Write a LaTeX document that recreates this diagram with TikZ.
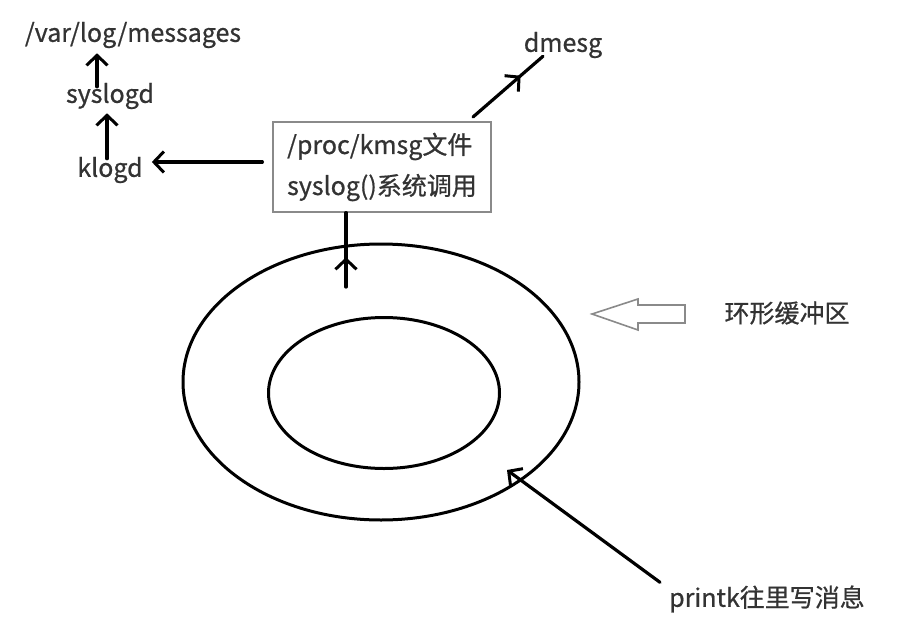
\documentclass[tikz,border=0pt]{standalone}
\usepackage{fontspec}
\newfontfamily\cjk[FakeBold=0.7]{Noto Sans CJK SC}
\usetikzlibrary{arrows.meta}
\usetikzlibrary{shapes}
\usetikzlibrary{decorations.markings}
\definecolor{ink}{HTML}{333333}
\definecolor{frame}{HTML}{8A8A8A}
\tikzset{
  label/.style={inner sep=1pt, text=ink, font=\cjk\fontsize{25}{41}\selectfont},
  pen/.style={line width=3.2pt, line cap=round, black},
  barb/.style={-{Straight Barb[length=10pt,width=21pt,line width=3pt]}},
  midbarb/.style={postaction={decorate, decoration={markings, mark=at position #1 with {\arrow{Straight Barb[length=10pt,width=21pt,line width=3pt]}}}}}
}
\begin{document}
\begin{tikzpicture}[x=1pt, y=-1pt]
	\useasboundingbox (0,0) rectangle (924,640);
	%Log chain
	\node [label] (messages) at (133,35) {/var/log/messages};
	\node [label] (syslogd) at (110,96) {syslogd};
	\node [label] (klogd) at (110,170) {klogd};
	\draw[pen, barb] ([xshift=-36pt, yshift=-5pt]messages.south |- syslogd.north) -- ([xshift=-36pt, yshift=-4pt]messages.south);
	\draw[pen, barb] ([xshift=-3pt, yshift=-3pt]klogd.north) -- ([xshift=-3pt, yshift=-3pt]syslogd.south);
	%Kernel interface
	\node [label, rectangle, draw=frame, line width=1.2pt, align=left, minimum width=218pt, minimum height=90pt, inner sep=4pt] (kmsg) at (382,167) {/proc/kmsg文件\\syslog()系统调用};
	\coordinate (kfoot) at ([xshift=-10pt, yshift=5pt]kmsg.west);
	\draw[pen, barb] (kfoot) -- ([xshift=8pt]klogd.east |- kfoot);
	\node [label] (dmesg) at (563,45) {dmesg};
	\coordinate (dfoot) at (473,117);
	\draw[pen, midbarb=0.68] (dfoot) -- ([xshift=-20pt, yshift=3pt]dmesg.south);
	%Ring buffer
	\node [ellipse, draw, line width=3pt, minimum width=396pt, minimum height=276pt, inner sep=0pt] (ring) at (381,382) {};
	\node [ellipse, draw, line width=3pt, minimum width=231pt, minimum height=151pt, inner sep=0pt] (hole) at (384,393) {};
	\coordinate (rfoot) at (346,287);
	\draw[pen, midbarb=0.4] (rfoot) -- (rfoot |- kmsg.south);
	%Ring label
	\coordinate (hollow) at (592,314);
	\draw[frame, line width=1.6pt, line join=miter] (hollow) -- ++(46,-15) -- ++(0,6) -- ++(47,0) -- ++(0,18) -- ++(-47,0) -- ++(0,7) -- cycle;
	\node [label] (ringname) at (787,313) {环形缓冲区};
	%Writer
	\node [label, anchor=west] (printk) at (668,599) {printk往里写消息};
	\draw[pen, barb] ([xshift=-8pt, yshift=2pt]printk.north west) -- (507,470);
\end{tikzpicture}
\end{document}
